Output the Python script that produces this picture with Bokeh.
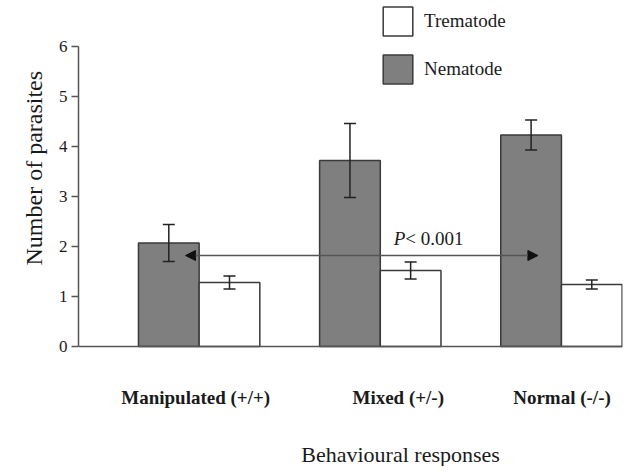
import numpy as np
from bokeh.plotting import figure
from bokeh.models import (ColumnDataSource, Whisker, TeeHead, Arrow, NormalHead,
                          Legend, LegendItem, FixedTicker, Range1d, Title)
from bokeh.core.properties import value
from bokeh.embed import file_html
from bokeh.resources import INLINE

# ---------------- data ----------------
categories = ["Manipulated (+/+)", "Mixed (+/-)", "Normal (-/-)"]
group_pos = [1, 2, 3]
nematode_mean = [2.07, 3.72, 4.23]
nematode_se = [0.37, 0.74, 0.30]
trematode_mean = [1.28, 1.52, 1.24]
trematode_se = [0.13, 0.17, 0.09]
y_ticks = [0, 1, 2, 3, 4, 5, 6]
p_label = "< 0.001"
x_title = "Behavioural responses"
y_title = "Number of parasites"
arrow_y = 1.82
arrow_from = 0.925
arrow_to = 2.87

# ---------------- styling ----------------
FONT = "Liberation Serif"
BAR_W = 0.335
DARK = "#7f7f7f"
EDGE = "#3a3a3a"
AXC = "#555555"
TXT = "#1a1a1a"
PX_PER_UNIT = 181.15
X0, X1 = 0.334, 3.337
Y0, Y1 = -2.4, 6.92
label_nudge_px = [-3.5, 18.0, 0.5]

x = np.array(group_pos, dtype=float)
nm = np.array(nematode_mean); ns = np.array(nematode_se)
tm = np.array(trematode_mean); ts = np.array(trematode_se)

p = figure(width=623, height=466, output_backend="svg", toolbar_location=None,
           x_range=Range1d(X0, X1), y_range=Range1d(Y0, Y1),
           min_border_left=78, min_border_right=1, min_border_top=0,
           min_border_bottom=0)
p.outline_line_color = None
p.xgrid.visible = False
p.ygrid.visible = False
p.background_fill_color = "white"

nem_src = ColumnDataSource(dict(x=x - BAR_W / 2, top=nm, up=nm + ns, lo=nm - ns))
tre_src = ColumnDataSource(dict(x=x + BAR_W / 2, top=tm, up=tm + ts, lo=tm - ts))

r_nem = p.vbar(x="x", top="top", bottom=0, width=BAR_W, source=nem_src,
               fill_color=DARK, line_color=EDGE, line_width=1.5)
r_tre = p.vbar(x="x", top="top", bottom=0, width=BAR_W, source=tre_src,
               fill_color="white", line_color=EDGE, line_width=1.5)

for src in (nem_src, tre_src):
    w = Whisker(base="x", upper="up", lower="lo", source=src, line_color="#222222",
                line_width=1.5, level="overlay",
                upper_head=TeeHead(size=12, line_color="#222222", line_width=1.5),
                lower_head=TeeHead(size=12, line_color="#222222", line_width=1.5))
    p.add_layout(w)

p.add_layout(Arrow(x_start=arrow_from, y_start=arrow_y, x_end=arrow_to, y_end=arrow_y,
                   line_color="#555555", line_width=1.3, level="overlay",
                   start=NormalHead(size=10, fill_color="#111111", line_color="#111111"),
                   end=NormalHead(size=10, fill_color="#111111", line_color="#111111")))

# P-value text
p.text(x=[2.0746], y=[2.16], text=["P"], text_font=value(FONT), text_font_style="italic",
       text_font_size="19px", text_baseline="middle", text_align="left", text_color=TXT)
p.text(x=[2.138], y=[2.16], text=[p_label], text_font=value(FONT),
       text_font_size="19px", text_baseline="middle", text_align="left", text_color=TXT)

# x axis at y = 0 with category labels
tick_pos = [round(g + n / PX_PER_UNIT, 3) for g, n in zip(group_pos, label_nudge_px)]
p.xaxis.fixed_location = 0
p.xaxis.ticker = FixedTicker(ticks=tick_pos)
p.xaxis.major_label_overrides = {t: c for t, c in zip(tick_pos, categories)}
p.xaxis.major_label_text_font = FONT
p.xaxis.major_label_text_font_style = "bold"
p.xaxis.major_label_text_font_size = "19px"
p.xaxis.major_label_text_color = TXT
p.xaxis.major_label_standoff = 40
p.xaxis.axis_line_color = AXC
p.xaxis.axis_line_width = 1.5
p.xaxis.major_tick_line_color = None
p.xaxis.major_tick_out = 0
p.xaxis.minor_tick_line_color = None

# x title (inside the extended frame, below the axis)
p.text(x=[2.112], y=[-2.16], text=[x_title], text_font=value(FONT),
       text_font_size="22px", text_align="center", text_baseline="middle",
       text_color=TXT)

# y axis
p.yaxis.ticker = FixedTicker(ticks=y_ticks)
p.yaxis.bounds = (0, 6)
p.yaxis.axis_line_color = AXC
p.yaxis.axis_line_width = 1.5
p.yaxis.major_tick_line_color = AXC
p.yaxis.major_tick_line_width = 1.5
p.yaxis.major_tick_out = 7
p.yaxis.major_tick_in = 0
p.yaxis.minor_tick_line_color = None
p.yaxis.major_label_text_font = FONT
p.yaxis.major_label_text_font_size = "17px"
p.yaxis.major_label_text_color = TXT
p.yaxis.major_label_standoff = 4

p.add_layout(Title(text=y_title, align="left", offset=81 + 120,
                   text_font=FONT, text_font_size="24px", text_font_style="normal",
                   text_color=TXT, standoff=18), "left")

legend = Legend(items=[LegendItem(label="Trematode", renderers=[r_tre]),
                       LegendItem(label="Nematode", renderers=[r_nem])],
                location=(301, 379), glyph_width=37, glyph_height=36, spacing=12,
                padding=0, margin=0, label_standoff=8, border_line_alpha=0,
                background_fill_alpha=0, label_text_font=FONT,
                label_text_font_size="19px", label_text_color=TXT)
p.add_layout(legend)

open("out.html", "w").write(file_html(p, INLINE))
